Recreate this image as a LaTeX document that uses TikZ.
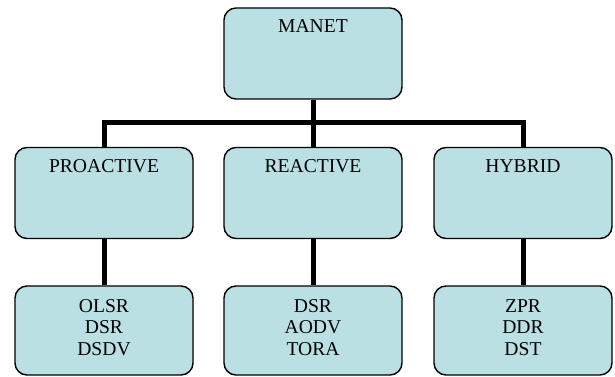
\documentclass[tikz,border=0pt]{standalone}
\usepackage{fontspec}
\setmainfont{Liberation Serif}
\usepackage{xcolor}
\usepackage{tikz}
\usetikzlibrary{positioning}

\definecolor{boxfill}{RGB}{187,224,227}

\begin{document}
\begin{tikzpicture}[x=1pt,y=-1pt,
  cls/.style={draw=black,line width=1.4pt,fill=boxfill,rounded corners=12pt,
    minimum width=178pt,minimum height=91pt,inner ysep=12pt,
    font=\fontsize{19.6}{21.7}\selectfont,text height=13pt,text depth=54pt},
  lst/.style={draw=black,line width=1.4pt,fill=boxfill,rounded corners=12pt,
    minimum width=178pt,minimum height=89pt,align=center,text depth=6pt,
    font=\fontsize{19.6}{21.7}\selectfont},
  bus/.style={line width=5pt}]
  \useasboundingbox (0,0) rectangle (615,377);
  \node[cls] (MANET) at (313,53.5) {MANET};
   \node[cls] (PRO) at (104,193) {PROACTIVE};
   \node[cls] (REA) at (313,193) {REACTIVE};
   \node[cls] (HYB) at (523,193) {HYBRID};
    \node[lst] (PROlist) at (104,330.5) {OLSR\\DSR\\DSDV};
    \node[lst] (REAlist) at (313,330.5) {DSR\\AODV\\TORA};
    \node[lst] (HYBlist) at (523,330.5) {ZPR\\DDR\\DST};
    \draw[bus] (MANET.south) -- ++(0,23) -| (PRO.north);
    \draw[bus] (MANET.south) -- ++(0,23) -| (HYB.north);
    \draw[bus] (MANET.south) -- (REA.north);
    \path[bus] (PRO) edge (PROlist);
    \path[bus] (REA) edge (REAlist);
    \path[bus] (HYB) edge (HYBlist);

 \end{tikzpicture}
\end{document}
